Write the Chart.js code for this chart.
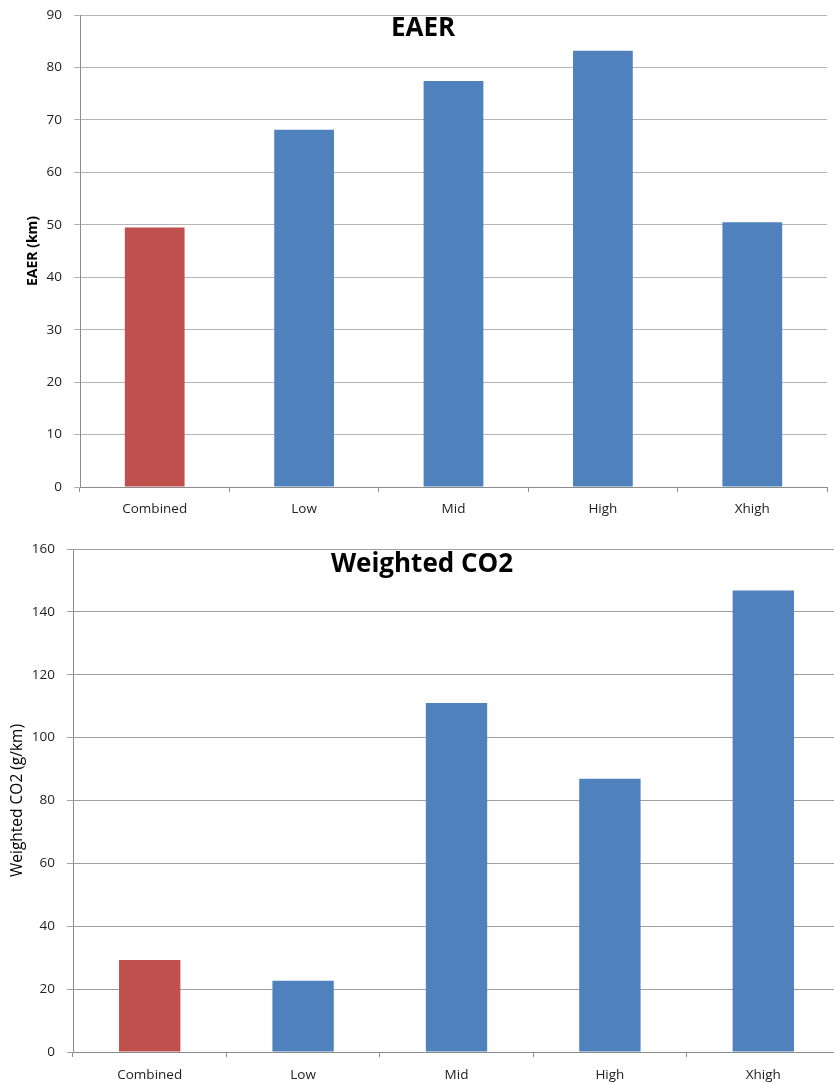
<!DOCTYPE html>
<html>
<head>
<meta charset="utf-8">
<script src="https://cdn.jsdelivr.net/npm/chart.js@4.4.1/dist/chart.umd.min.js"></script>
<style>
  html, body { margin: 0; padding: 0; background: #fff; overflow: hidden; }
  canvas { display: block; }
</style>
</head>
<body>
<canvas id="eaer" width="834" height="535"></canvas>
<canvas id="co2" width="842" height="548"></canvas>
<script>
// Vehicle groups shown on both charts
const categories = ['Combined', 'Low', 'Mid', 'High', 'Xhigh'];

// Equivalent all-electric range per group (km)
const eaerValues = [49.5, 68.1, 77.4, 83.2, 50.5];

// Utility-weighted CO2 emissions per group (g/km)
const co2Values = [29.3, 22.7, 111.0, 86.9, 146.8];

// Fill colour per bar: the combined group stands out in red
const barColors = ['#C0504D', '#4F81BD', '#4F81BD', '#4F81BD', '#4F81BD'];

const eaerTicks = { min: 0, max: 90, step: 10 };
const co2Ticks = { min: 0, max: 160, step: 20 };

const tickFont = { family: "'Open Sans', sans-serif", size: 13.5 };

// Draws the chart heading inside the top of the plotting area
const headingPlugin = {
  id: 'heading',
  afterDraw(chart, args, opts) {
    const ctx = chart.ctx;
    ctx.save();
    ctx.font = "bold 26px 'Open Sans', sans-serif";
    ctx.fillStyle = '#000';
    ctx.textAlign = 'center';
    ctx.textBaseline = 'middle';
    ctx.fillText(opts.text, opts.x, opts.y);
    ctx.restore();
  }
};

function makeChart(id, values, ticks, cfg) {
  return new Chart(document.getElementById(id), {
    type: 'bar',
    data: {
      labels: categories,
      datasets: [{
        data: values,
        backgroundColor: barColors,
        borderWidth: 0,
        barPercentage: 0.4,
        categoryPercentage: 1.0
      }]
    },
    options: {
      responsive: false,
      animation: false,
      layout: { padding: { top: cfg.top, right: cfg.right, left: 0, bottom: 0 } },
      plugins: {
        legend: { display: false },
        tooltip: { enabled: false },
        title: { display: false },
        heading: { text: cfg.title, x: cfg.titleX, y: cfg.titleY }
      },
      scales: {
        x: {
          grid: {
            display: true,
            drawOnChartArea: false,
            offset: true,
            tickLength: 5,
            color: '#8c8c8c'
          },
          border: { color: '#8c8c8c' },
          ticks: { font: tickFont, color: '#222', padding: cfg.xPad, maxRotation: 0 },
          afterFit(scale) { scale.height = cfg.xHeight; }
        },
        y: {
          min: ticks.min,
          max: ticks.max,
          grid: { color: cfg.gridColor, tickLength: 6 },
          border: { color: '#8c8c8c' },
          ticks: { stepSize: ticks.step, font: tickFont, color: '#222', padding: 12 },
          title: {
            display: true,
            text: cfg.yTitle,
            font: cfg.yTitleFont,
            color: '#000',
            padding: { top: cfg.yTitlePad, bottom: 0 }
          },
          afterFit(scale) {
            scale.width = cfg.yWidth;
            // the plot edges are set by the layout padding alone
            scale.paddingTop = 0;
            scale.paddingBottom = 0;
          }
        }
      }
    },
    plugins: [headingPlugin]
  });
}

makeChart('eaer', eaerValues, eaerTicks, {
  title: 'EAER', titleX: 423, titleY: 29,
  top: 15, right: 7, xHeight: 48, xPad: 9, yWidth: 80,
  gridColor: '#b4b4b4',
  yTitle: 'EAER (km)',
  yTitleFont: { family: "'Open Sans', sans-serif", size: 14, weight: 'bold' },
  yTitlePad: 25
});

makeChart('co2', co2Values, co2Ticks, {
  title: 'Weighted CO2', titleX: 422, titleY: 30,
  top: 14, right: 2, xHeight: 31, xPad: 10, yWidth: 73,
  gridColor: '#a0a0a0',
  yTitle: 'Weighted CO2 (g/km)',
  yTitleFont: { family: "'Open Sans', sans-serif", size: 15.5, weight: 'normal' },
  yTitlePad: 8
});
</script>
</body>
</html>
